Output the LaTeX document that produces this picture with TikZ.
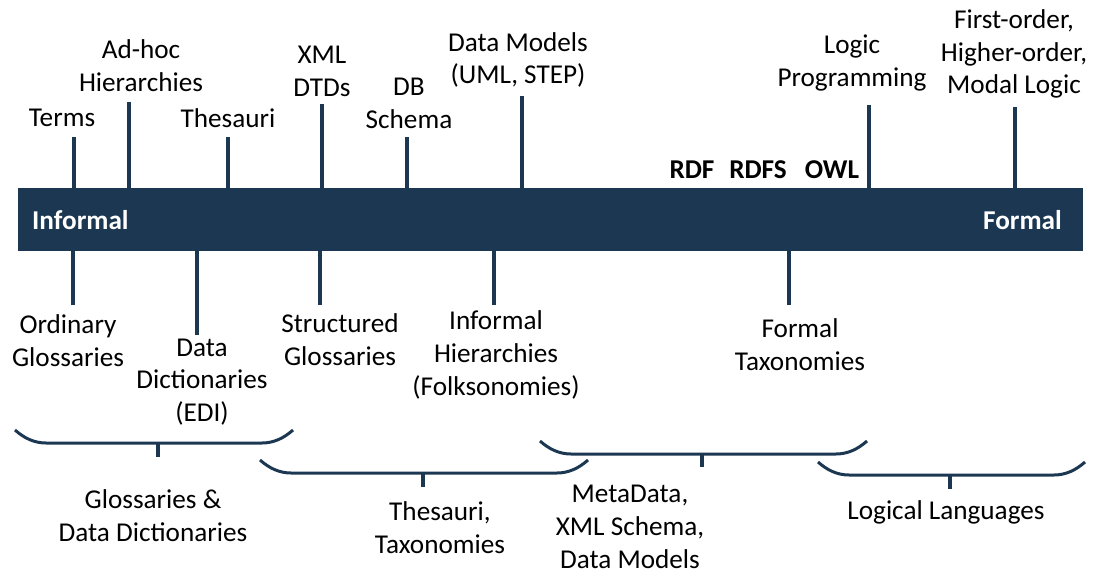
\documentclass[tikz,border=0pt]{standalone}
\usepackage{fontspec}
\setmainfont{Carlito}
\definecolor{navy}{HTML}{1B3752}
\tikzset{
  lbl/.style={align=center, inner sep=0pt, font=\fontsize{27.2}{32.8}\selectfont},
  kw/.style={inner sep=0pt, font=\fontsize{27.2}{32.8}\selectfont\bfseries},
  tickline/.style={draw=navy, line width=4pt},
  bracket/.style={draw=navy, line width=3pt},
  brackettick/.style={draw=navy, line width=3.5pt},
}
\begin{document}
\begin{tikzpicture}[x=1pt,y=-1pt]
\useasboundingbox (0,0) rectangle (1094,577);

% the informal-to-formal axis
\node[fill=navy, anchor=north west, minimum width=1065pt, minimum height=63pt, inner sep=0pt] (bar) at (18,188) {};
\node[kw, text=white, anchor=west] (informal) at (32,220) {Informal};
\node[kw, text=white, anchor=east] (formal) at (1062,220) {Formal};

% labels above the axis
\node[lbl] (terms) at (62,118) {Terms};
\node[lbl] (adhoc) at (141,66) {Ad-hoc\\Hierarchies};
\node[lbl] (thes) at (228,118) {Thesauri};
\node[lbl] (xml) at (322,71) {XML\\DTDs};
\node[lbl] (db) at (409,103) {DB\\Schema};
\node[lbl] (dm) at (518,60) {Data Models\\(UML, STEP)};
\node[lbl] (lp) at (852,63) {Logic\\Programming};
\node[lbl] (fo) at (1014,54) {First-order,\\Higher-order,\\Modal Logic};
\node[kw] (rdf) at (692,170) {RDF};
\node[kw] (rdfs) at (758,170) {RDFS};
\node[kw] (owl) at (832,170) {OWL};

% labels below the axis
\node[lbl] (og) at (68,341) {Ordinary\\Glossaries};
\node[lbl] (dd) at (202,382) {Data\\Dictionaries\\(EDI)};
\node[lbl] (sg) at (340,340) {Structured\\Glossaries};
\node[lbl] (ih) at (496,355) {Informal\\Hierarchies\\(Folksonomies)};
\node[lbl] (ft) at (800,345) {Formal\\Taxonomies};

% tick ends
\coordinate (u1) at (74,137);
\coordinate (u2) at (129,102);
\coordinate (u3) at (228,137);
\coordinate (u4) at (322,104);
\coordinate (u5) at (407,137);
\coordinate (u6) at (522,96);
\coordinate (u7) at (869,105);
\coordinate (u8) at (1015,107);
\coordinate (d1) at (73,305);
\coordinate (d2) at (197,335);
\coordinate (d3) at (320,305);
\coordinate (d4) at (494,305);
\coordinate (d5) at (789,305);

\foreach \c in {u1,u2,u3,u4,u5,u6,u7,u8}
  \draw[tickline] (\c) -- (\c |- bar.north);
\foreach \c in {d1,d2,d3,d4,d5}
  \draw[tickline] (\c) -- (\c |- bar.south);

% grouping brackets
\draw[bracket] (15,430) .. controls (24,438) and (34,443) .. (46,443) -- (262,443)
  .. controls (274,443) and (284,438) .. (293,430);
\coordinate (b1) at (158,443);
\draw[brackettick] (b1) -- ++(0,14);

\draw[bracket] (260,460) .. controls (269,468) and (279,473) .. (291,473) -- (557,473)
  .. controls (569,473) and (579,468) .. (588,460);
\coordinate (b2) at (423,473);
\draw[brackettick] (b2) -- ++(0,14);

\draw[bracket] (540,441) .. controls (549,449) and (559,454) .. (571,454) -- (836,454)
  .. controls (848,454) and (858,449) .. (867,441);
\coordinate (b3) at (702,454);
\draw[brackettick] (b3) -- ++(0,13);

\draw[bracket] (818,462) .. controls (827,470) and (837,475) .. (849,475) -- (1054,475)
  .. controls (1066,475) and (1076,470) .. (1085,462);
\coordinate (b4) at (950,475);
\draw[brackettick] (b4) -- ++(0,14);

% group names
\node[lbl] (g1) at (153,516) {Glossaries \&\\Data Dictionaries};
\node[lbl] (g2) at (440,528) {Thesauri,\\Taxonomies};
\node[lbl] (g3) at (630,527) {MetaData,\\XML Schema,\\Data Models};
\node[lbl] (g4) at (946,512) {Logical Languages};
\end{tikzpicture}
\end{document}
